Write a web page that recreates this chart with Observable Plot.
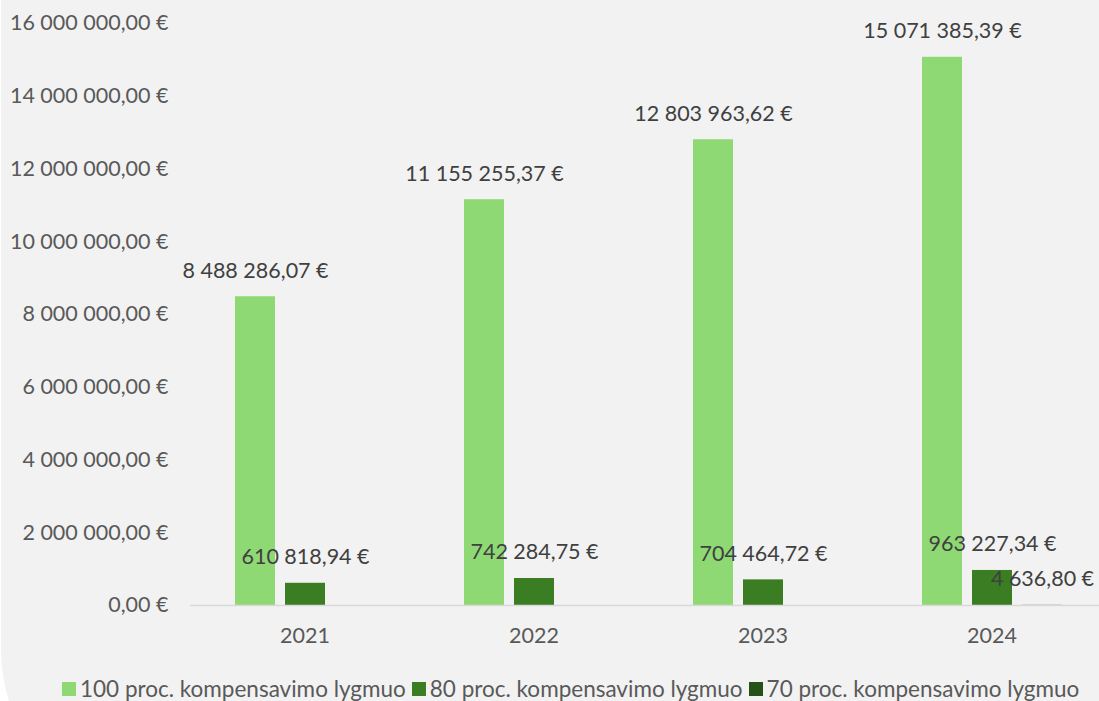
<!DOCTYPE html>
<html>
<head>
<meta charset="utf-8">
<script src="https://cdn.jsdelivr.net/npm/d3@7"></script>
<script src="https://cdn.jsdelivr.net/npm/@observablehq/plot@0.6"></script>
<style>
  html, body { margin: 0; padding: 0; background: #ffffff; }
  #frame { position: relative; width: 1099px; height: 701px; overflow: hidden; font-family: Lato, "Open Sans", sans-serif; }
  #bg { position: absolute; left: 1px; top: 0; width: 1200px; height: 816px; background: #f2f2f2; border-bottom-left-radius: 166px; }
  #chart { position: absolute; left: 0; top: 0; width: 1106px; }
  #chart svg { max-width: none !important; }
  #legend { position: absolute; left: 62px; top: 675px; display: flex; align-items: center; white-space: nowrap; font-size: 22.5px; color: #595959; }
  .item { display: flex; align-items: center; margin-right: 6px; }
  .sw { width: 14px; height: 14px; margin-right: 4px; }
</style>
</head>
<body>
<div id="frame">
  <div id="bg"></div>
  <div id="chart"></div>
  <div id="legend"></div>
</div>
<script>
const years = ["2021", "2022", "2023", "2024"];
const seriesNames = ["100 proc. kompensavimo lygmuo", "80 proc. kompensavimo lygmuo", "70 proc. kompensavimo lygmuo"];
const seriesKeys = ["100", "80", "70"];
const colors = ["#8fd974", "#3b7d23", "#275217"];
const values100 = [8488286.07, 11155255.37, 12803963.62, 15071385.39];
const values80 = [610818.94, 742284.75, 704464.72, 963227.34];
const values70 = [null, null, null, 4636.80];
const yTicks = [0, 2000000, 4000000, 6000000, 8000000, 10000000, 12000000, 14000000, 16000000];

const allValues = [values100, values80, values70];
const data = [];
years.forEach((yr, i) => {
  seriesKeys.forEach((k, j) => {
    const v = allValues[j][i];
    if (v != null) data.push({year: yr, series: k, value: v});
  });
});

function fmt(v) {
  const [intPart, dec] = v.toFixed(2).split(".");
  const grouped = intPart.replace(/\B(?=(\d{3})+(?!\d))/g, " ");
  return grouped + "," + dec + " €";
}

const chart = Plot.plot({
  width: 1106,
  height: 660,
  marginLeft: 190,
  marginRight: 0,
  marginTop: 23,
  marginBottom: 55,
  style: {background: "transparent", fontFamily: "Lato, 'Open Sans', sans-serif", fontSize: "21.5px", color: "#595959", maxWidth: "none"},
  fx: {domain: years, paddingInner: 0, paddingOuter: 0, label: null, tickSize: 0, tickPadding: 22},
  x: {domain: seriesKeys, paddingInner: 0.2, paddingOuter: 0.89, axis: null},
  y: {domain: [0, 16000000], ticks: yTicks, tickFormat: fmt, label: null, tickSize: 0, tickPadding: 22},
  color: {domain: seriesKeys, range: colors},
  marks: [
    Plot.barY(data, {fx: "year", x: "series", y: "value", fill: "series"}),
    Plot.ruleY([0], {stroke: "#d9d9d9", strokeWidth: 1.5}),
    Plot.text(data, {fx: "year", x: "series", y: "value", text: d => fmt(d.value), dy: -26, fill: "#404040", fontSize: 21.5})
  ]
});
document.getElementById("chart").appendChild(chart);

const legend = document.getElementById("legend");
seriesNames.forEach((name, j) => {
  const item = document.createElement("div");
  item.className = "item";
  const sw = document.createElement("div");
  sw.className = "sw";
  sw.style.background = colors[j];
  const label = document.createElement("span");
  label.textContent = name;
  item.appendChild(sw);
  item.appendChild(label);
  legend.appendChild(item);
});
</script>
</body>
</html>
